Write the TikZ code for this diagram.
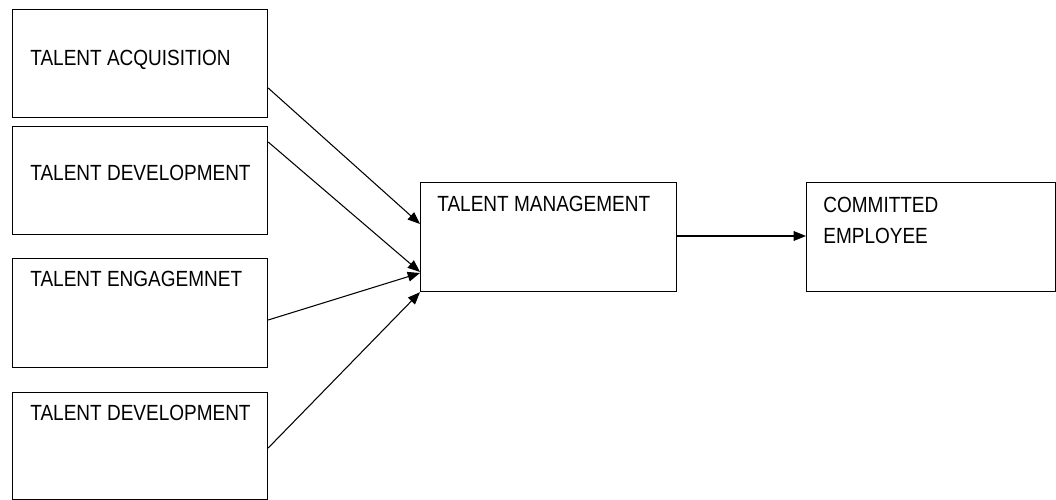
\documentclass[tikz,border=0pt]{standalone}
\usepackage{fontspec}
\setmainfont{Liberation Sans}[FakeStretch=0.865]
\usetikzlibrary{arrows.meta,positioning,calc}

\begin{document}
\begin{tikzpicture}[
  x=0.02cm,y=-0.02cm,
  block/.style={rectangle,draw,line width=0.7pt,inner sep=0pt,anchor=north west,
                minimum width=5.1cm,minimum height=2.16cm},
  caption/.style={anchor=base west,inner sep=0pt,align=left,
                  font=\fontsize{12.5}{18.1}\selectfont},
  link/.style={-{Triangle[length=7pt,width=5.5pt]},line width=0.6pt}
]
  \useasboundingbox (0,0) rectangle (1056,500);
  % left column
  \node[block] (acq) at (12,9) {};
  \node[block] (dev) at (12,126) {};
  \node[block,minimum height=2.18cm] (eng) at (12,258) {};
  \node[block,minimum height=2.14cm] (dev2) at (12,392) {};
  % middle and right
  \node[block,minimum width=5.12cm,minimum height=2.18cm] (tm) at (420,182) {};
  \node[block,minimum width=4.98cm,minimum height=2.18cm] (ce) at (806,182) {};

  % texts
  \node[caption] (acqtxt) at ($(acq.north west)+(18,57)$) {TALENT ACQUISITION};
  \node[caption] (devtxt) at ($(dev.north west)+(18,55)$) {TALENT DEVELOPMENT};
  \node[caption] (engtxt) at ($(eng.north west)+(18,29)$) {TALENT ENGAGEMNET};
  \node[caption] (dev2txt) at ($(dev2.north west)+(18,28)$) {TALENT DEVELOPMENT};
  \node[caption] (tmtxt) at ($(tm.north west)+(17,30)$) {TALENT MANAGEMENT};
  \node[caption] (cetxt) at ($(ce.north west)+(17,62)$) {COMMITTED\\EMPLOYEE};

  % arrows
  \draw[link] ($(acq.north east)+(0,79)$) -- ($(tm.north west)+(0,42)$);
  \draw[link] ($(dev.north east)+(0,16)$) -- ($(tm.north west)+(0,90)$);
  \draw[link] ($(eng.north east)+(0,62)$) -- ($(tm.north west)+(0,91)$);
  \draw[link] ($(dev2.north east)+(0,56)$) -- (tm.south west);
  \draw[link] ($(tm.north east)+(0,54)$) -- ($(ce.north west)+(0,54)$);
\end{tikzpicture}
\end{document}
